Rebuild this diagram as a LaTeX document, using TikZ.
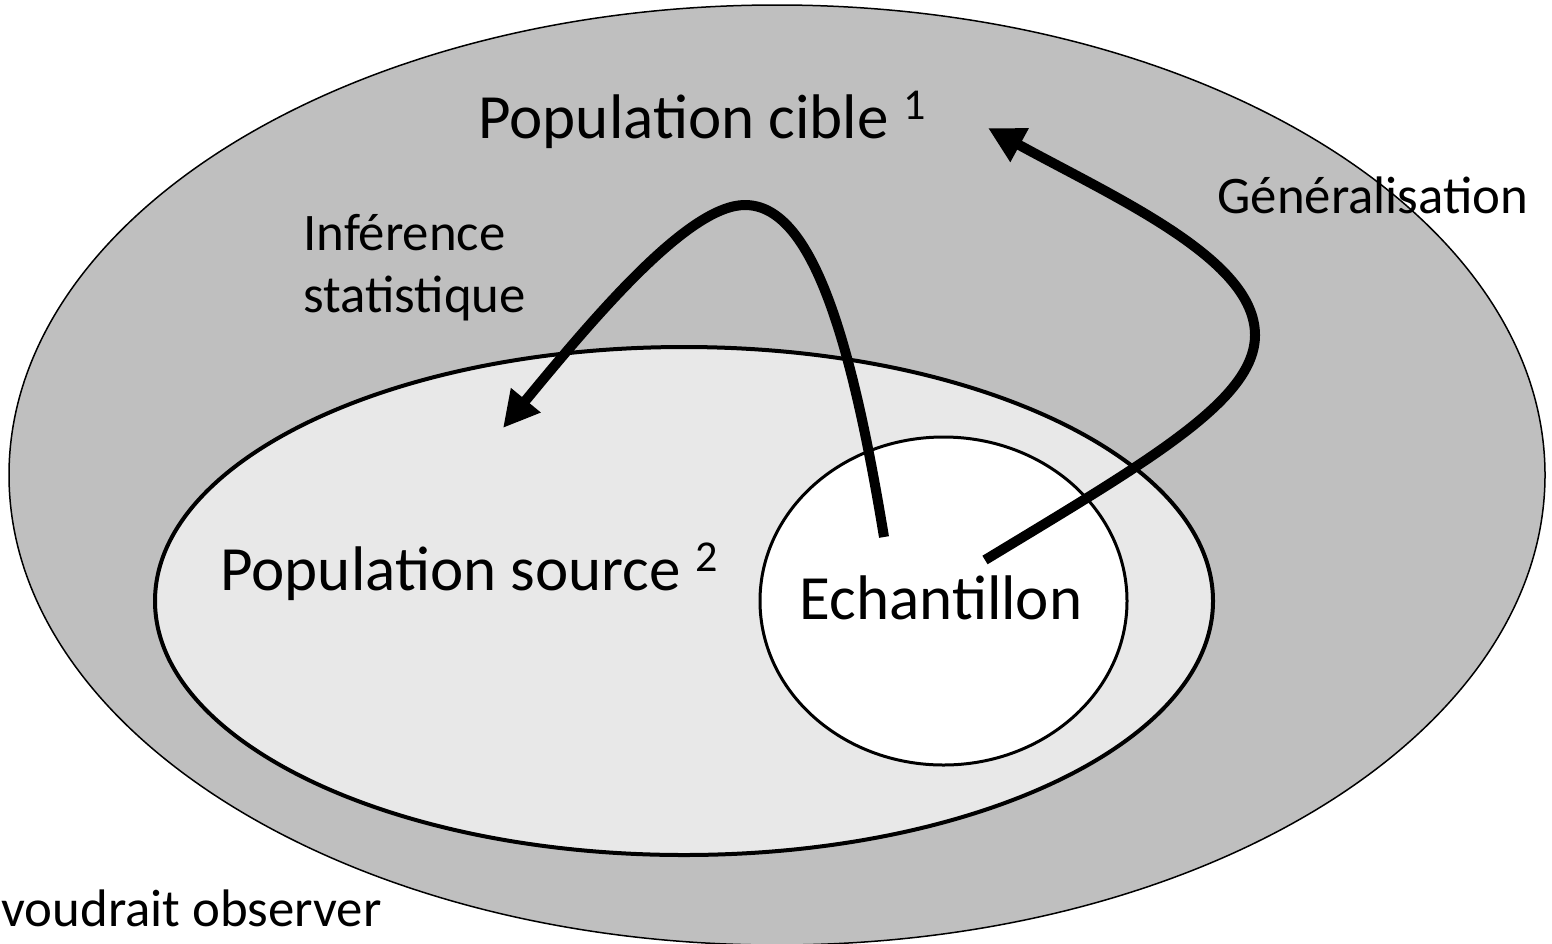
\documentclass[tikz,border=0pt]{standalone}
\usepackage{fontspec}
\setmainfont{Carlito}
\usetikzlibrary{shapes.geometric,arrows.meta}
\definecolor{outergray}{HTML}{BFBFBF}
\definecolor{midgray}{HTML}{E8E8E8}
\tikzset{
  zone/.style={ellipse, draw=black, inner sep=0pt},
  bigtxt/.style={inner sep=0pt, anchor=base west, font=\fontsize{31.5}{38}\selectfont},
  smalltxt/.style={inner sep=0pt, anchor=base west, align=left, font=\fontsize{26.4}{31}\selectfont},
  flow/.style={line width=5pt, -{Triangle[length=18pt,width=18pt]}}
}
\begin{document}
\begin{tikzpicture}[x=0.5pt,y=-0.5pt]
\useasboundingbox (0,0) rectangle (1552,943);
\clip (0,0) rectangle (1552,943);
% zones
\node[zone, fill=outergray, line width=0.75pt, minimum width=768pt, minimum height=470pt] (cible) at (777,475) {};
\node[zone, fill=midgray, line width=2pt, minimum width=529pt, minimum height=254pt] (source) at (684,601) {};
\node[zone, fill=white, line width=1.5pt, minimum width=183.5pt, minimum height=164pt] (echant) at (943.5,601) {};
% labels
\node[bigtxt] (tcible) at (478,138) {Population cible \textsuperscript{1}};
\node[bigtxt] (tsource) at (220,590) {Population source \textsuperscript{2}};
\node[bigtxt, anchor=base] (techant) at (941,619) {Echantillon};
\node[smalltxt] (tinf) at (303,250) {Inférence};
\node[smalltxt] (tstat) at (303,312) {statistique};
\node[smalltxt] (tgen) at (1217,213) {Généralisation};
\node[smalltxt] (tvoud) at (1,926) {voudrait observer};
% arrow endpoints
\coordinate (infstart) at (884,537);
\coordinate (infpeak) at (745,205);
\coordinate (infend) at (503,428);
\coordinate (genstart) at (985,560);
\coordinate (genbulge) at (1255,335);
\coordinate (genend) at (988,128);
% arrows
\draw[flow] (infstart) .. controls (850,330) and (810,205) .. (infpeak)
  .. controls (690,205) and (600,310) .. (infend);
\draw[flow] (genstart) .. controls (1150,460) and (1255,400) .. (genbulge)
  .. controls (1255,260) and (1120,200) .. (genend);
\end{tikzpicture}
\end{document}
